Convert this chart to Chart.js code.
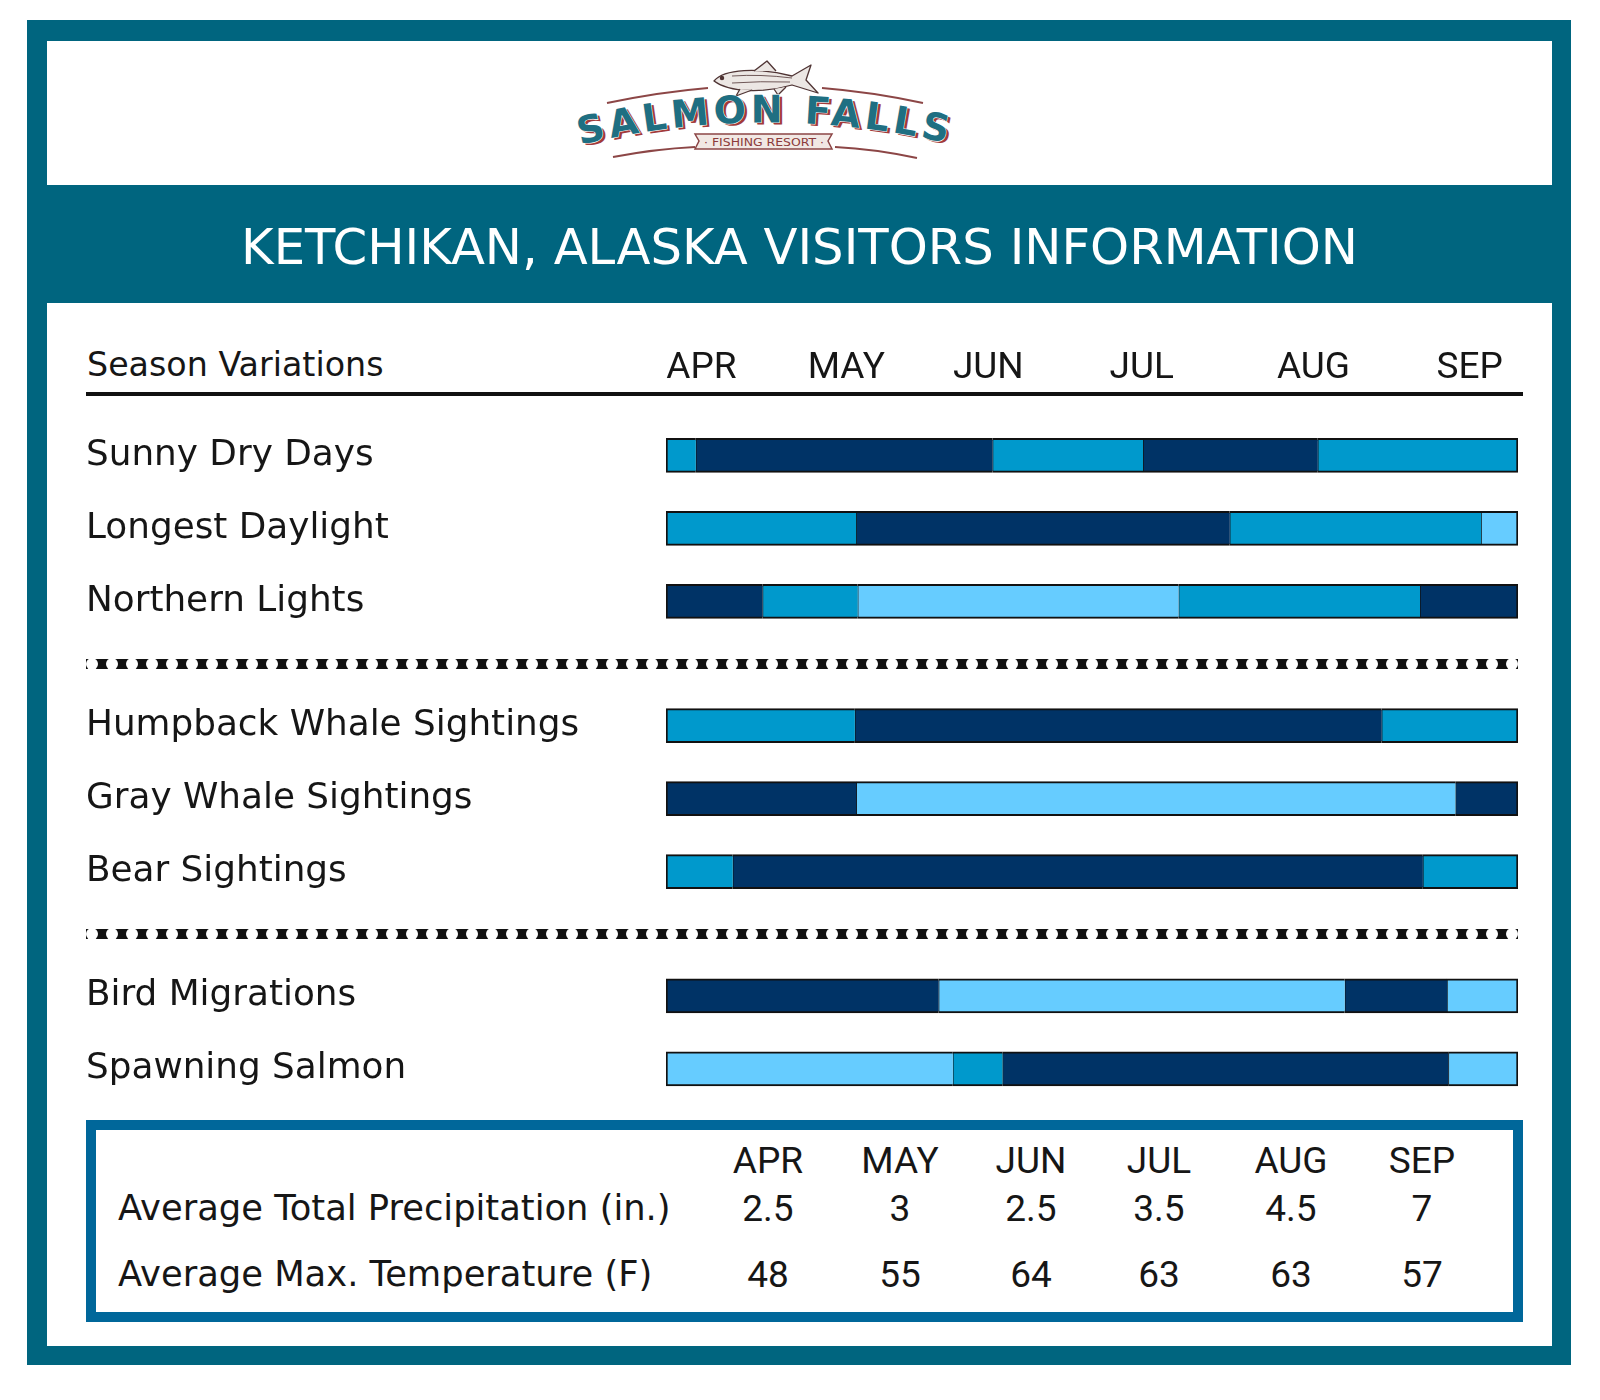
<!DOCTYPE html>
<html>
<head>
<meta charset="utf-8">
<script src="https://cdn.jsdelivr.net/npm/chart.js@4.4.1/dist/chart.umd.min.js"></script>
<style>
  html, body { margin: 0; padding: 0; background: #fff; }
  #page { position: relative; width: 1600px; height: 1400px; overflow: hidden; background: #fff; font-family: "DejaVu Sans", sans-serif; color: #161616; }
  .abs { position: absolute; white-space: nowrap; }
  #frame { left: 27px; top: 20px; width: 1544px; height: 1345px; background: #00657f; }
  #inner { left: 47px; top: 41px; width: 1505px; height: 1305px; background: #fff; }
  #band { left: 47px; top: 185px; width: 1505px; height: 118px; background: #00657f; }
  #title { left: 47px; width: 1505px; top: 217px; line-height: 60px; text-align: center; color: #fff; font-size: 49.7px; }
  #logo { left: 560px; top: 50px; }
  #seasonHead { left: 87px; top: 345px; line-height: 40px; font-size: 33.3px; }
  #chartWrap { left: 86px; top: 320px; width: 1437px; height: 800px; }
  #tableBox { left: 86px; top: 1120px; width: 1437px; height: 202px; box-sizing: border-box; border: 10px solid #00679a; background: #fff; }
  .cell { position: absolute; white-space: nowrap; line-height: 44px; }
  .num { font-family: Roboto, sans-serif; font-size: 37px; transform: translateX(-50%); }
  .lab { font-size: 35.3px; }
</style>
</head>
<body>
<div id="page">
  <div id="frame" class="abs"></div>
  <div id="inner" class="abs"></div>
  <svg id="logo" class="abs" width="420" height="120" viewBox="0 0 420 120">
    <defs>
      <path id="arcText" d="M 20 95 Q 207 50 395 95"/>
    </defs>
    <g fill="none" stroke="#8c4646" stroke-width="2">
      <path d="M 47 53 Q 100 42 148 38"/>
      <path d="M 262 38 Q 312 42 363 53"/>
      <path d="M 53 107 Q 95 99 135 97"/>
      <path d="M 275 97 Q 315 99 357 108"/>
    </g>
    <g stroke="#4f3434" stroke-width="1.3" stroke-linejoin="round">
      <path d="M 154 31 C 164 19 198 17 232 26 L 251 15 L 246 30 L 258 43 L 232 35 C 205 43 170 43 154 31 Z" fill="#ece7e4"/>
      <path d="M 194 21 L 207 11 L 216 21" fill="#ece7e4"/>
      <path d="M 180 39 L 176 46 L 192 40" fill="#ece7e4"/>
      <path d="M 214 39 L 218 45 L 226 37" fill="#ece7e4"/>
      <path d="M 172 26 Q 200 24 232 28 M 172 33 Q 200 31 230 32" fill="none" stroke-width="0.8"/>
      <circle cx="162" cy="28" r="1.6" fill="#4f3434"/>
    </g>
    <text font-family="DejaVu Sans" font-weight="bold" font-size="38" fill="#a33a3a" transform="translate(3,2)">
      <textPath href="#arcText" textLength="370" lengthAdjust="spacing">SALMON FALLS</textPath>
    </text>
    <text font-family="DejaVu Sans" font-weight="bold" font-size="38" fill="#1f6f82" stroke="#fff" stroke-width="1.2" paint-order="stroke">
      <textPath href="#arcText" textLength="370" lengthAdjust="spacing">SALMON FALLS</textPath>
    </text>
    <path d="M 135 84 L 272 84 L 268 91 L 272 99 L 135 99 L 139 91 Z" fill="#f1e8e4" stroke="#8c4646" stroke-width="1.5"/>
    <text x="204" y="95.5" text-anchor="middle" font-family="DejaVu Sans" font-size="11" fill="#8c3a3a" textLength="120" lengthAdjust="spacingAndGlyphs">· FISHING RESORT ·</text>
  </svg>
  <div id="band" class="abs"></div>
  <div id="title" class="abs">KETCHIKAN, ALASKA VISITORS INFORMATION</div>
  <div id="seasonHead" class="abs">Season Variations</div>
  <div id="chartWrap" class="abs"><canvas id="seasonChart" width="1437" height="800"></canvas></div>
  <div id="tableBox" class="abs"></div>
</div>
<script>
(function () {
    // rows of the season chart
    const rowLabels = [
        'Sunny Dry Days', 'Longest Daylight', 'Northern Lights',
        'Humpback Whale Sightings', 'Gray Whale Sightings', 'Bear Sightings',
        'Bird Migrations', 'Spawning Salmon'
    ];
    const rowGroups = [0, 0, 0, 1, 1, 1, 2, 2];

    // segment edges in months from Apr 1 (0) to Sep 30 (6)
    const rowBreaks = [
        [0, 0.21, 2.30, 3.36, 4.59, 6],
        [0, 1.34, 3.97, 5.74, 6],
        [0, 0.68, 1.35, 3.61, 5.31, 6],
        [0, 1.33, 5.04, 6],
        [0, 1.34, 5.56, 6],
        [0, 0.47, 5.33, 6],
        [0, 1.92, 4.78, 5.50, 6],
        [0, 2.02, 2.37, 5.51, 6]
    ];
    // 1 = low, 2 = medium, 3 = high
    const rowLevels = [
        [2, 3, 2, 3, 2],
        [2, 3, 2, 1],
        [3, 2, 1, 2, 3],
        [2, 3, 2],
        [3, 1, 3],
        [2, 3, 2],
        [3, 1, 3, 1],
        [1, 2, 3, 1]
    ];

    const monthLabels = ['APR', 'MAY', 'JUN', 'JUL', 'AUG', 'SEP'];
    const monthTickPos = [0.25, 1.27, 2.27, 3.35, 4.56, 5.66];

    const tableMonths = ['APR', 'MAY', 'JUN', 'JUL', 'AUG', 'SEP'];
    const precipitation = [2.5, 3, 2.5, 3.5, 4.5, 7];
    const maxTemperature = [48, 55, 64, 63, 63, 57];

    const levelColors = { 1: '#66ccff', 2: '#0099cc', 3: '#003366' };
    const groupGap = 0.7;
    const rowPos = rowLabels.map(function (_, i) { return i + rowGroups[i] * groupGap; });
    const separatorPos = [];
    for (let i = 1; i < rowPos.length; i++) {
        if (rowGroups[i] !== rowGroups[i - 1]) {
            separatorPos.push((rowPos[i] + rowPos[i - 1]) / 2);
        }
    }

    // one dataset per segment slot
    const maxSegments = Math.max.apply(null, rowLevels.map(function (l) { return l.length; }));
    const datasets = [];
    for (let k = 0; k < maxSegments; k++) {
        const data = [];
        rowLevels.forEach(function (levels, i) {
            if (k < levels.length) {
                data.push({
                    x: [rowBreaks[i][k], rowBreaks[i][k + 1]],
                    y: rowPos[i],
                    level: levels[k],
                    first: k === 0,
                    last: k === levels.length - 1
                });
            }
        });
        datasets.push({
            data: data,
            grouped: false,
            barThickness: 34,
            borderSkipped: false,
            borderColor: '#111',
            backgroundColor: function (c) { return levelColors[c.raw.level]; },
            borderWidth: function (c) {
                return { top: 2, bottom: 2, left: c.raw.first ? 2 : 1, right: c.raw.last ? 2 : 0 };
            }
        });
    }

    const decorPlugin = {
        id: 'decor',
        afterDraw: function (chart) {
            const ctx = chart.ctx;
            const area = chart.chartArea;
            const yScale = chart.scales.y;
            ctx.save();
            ctx.fillStyle = '#111';
            ctx.fillRect(0, area.top - 2, area.right + 5, 4);
            separatorPos.forEach(function (v) {
                const py = Math.round(yScale.getPixelForValue(v));
                ctx.fillStyle = '#111';
                ctx.fillRect(0, py - 5, area.right, 10);
                ctx.fillStyle = '#fff';
                for (let x = 6; x < area.right + 6; x += 20) {
                    ctx.beginPath();
                    ctx.arc(x, py, 6, 0, Math.PI * 2);
                    ctx.fill();
                }
            });
            ctx.restore();
        }
    };

    Chart.defaults.font.family = '"DejaVu Sans", sans-serif';
    Chart.defaults.color = '#161616';

    new Chart(document.getElementById('seasonChart'), {
        type: 'bar',
        data: { datasets: datasets },
        plugins: [decorPlugin],
        options: {
            indexAxis: 'y',
            responsive: false,
            animation: false,
            events: [],
            layout: { padding: { left: 0, right: 5, top: 0, bottom: 0 } },
            plugins: { legend: { display: false }, tooltip: { enabled: false } },
            scales: {
                x: {
                    type: 'linear',
                    position: 'top',
                    min: 0,
                    max: 6,
                    offset: false,
                    grid: { display: false, drawTicks: false },
                    border: { display: false },
                    afterBuildTicks: function (scale) {
                        scale.ticks = monthTickPos.map(function (v) { return { value: v }; });
                    },
                    afterFit: function (scale) { scale.height = 74; },
                    ticks: {
                        autoSkip: false,
                        maxRotation: 0,
                        padding: 3,
                        font: { family: 'Roboto, sans-serif', size: 37 },
                        callback: function (v, i) { return monthLabels[i]; }
                    }
                },
                y: {
                    type: 'linear',
                    reverse: true,
                    min: -0.84,
                    max: 9.1,
                    offset: false,
                    grid: { display: false, drawTicks: false },
                    border: { display: false },
                    afterBuildTicks: function (scale) {
                        scale.ticks = rowPos.map(function (v) { return { value: v }; });
                    },
                    afterFit: function (scale) {
                        scale.width = 580;
                        scale.paddingTop = 0;
                        scale.paddingBottom = 0;
                    },
                    ticks: {
                        autoSkip: false,
                        crossAlign: 'far',
                        padding: 0,
                        font: { size: 35.8 },
                        callback: function (v, i) { return rowLabels[i]; }
                    }
                }
            }
        }
    });

    // climate table
    const box = document.getElementById('tableBox');
    const top0 = 1130, left0 = 96; // inner corner of the box border
    const colX = [768, 900, 1031, 1159, 1291, 1422];
    function addCell(text, cls, left, centerY) {
        const d = document.createElement('div');
        d.className = 'cell ' + cls;
        d.textContent = text;
        d.style.left = (left - left0) + 'px';
        d.style.top = (centerY - top0 - 22) + 'px';
        box.appendChild(d);
    }
    tableMonths.forEach(function (m, i) { addCell(m, 'num', colX[i], 1161); });
    addCell('Average Total Precipitation (in.)', 'lab', 118, 1208);
    precipitation.forEach(function (v, i) { addCell(String(v), 'num', colX[i], 1209); });
    addCell('Average Max. Temperature (F)', 'lab', 118, 1274);
    maxTemperature.forEach(function (v, i) { addCell(String(v), 'num', colX[i], 1275); });
})();
</script>
</body>
</html>
